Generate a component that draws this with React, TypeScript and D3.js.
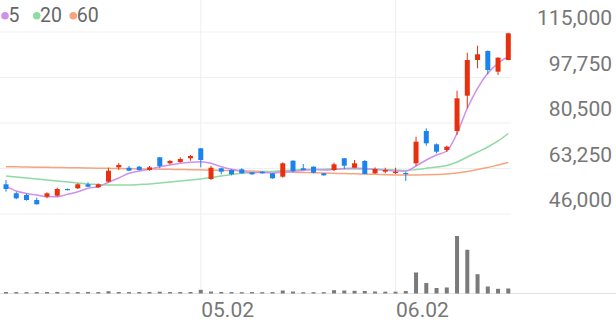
import React from 'react';
import * as d3 from 'd3';

const dates = [
  '04.04','04.05','04.06','04.07','04.10','04.11','04.12','04.13','04.14','04.17',
  '04.18','04.19','04.20','04.21','04.24','04.25','04.26','04.27','04.28','05.02',
  '05.03','05.04','05.08','05.09','05.10','05.11','05.12','05.15','05.16','05.17',
  '05.18','05.19','05.22','05.23','05.24','05.26','05.30','06.01','06.02','06.05',
  '06.07','06.08','06.09','06.12','06.13','06.14','06.15','06.16','06.19','06.20',
];

const open = [
  57260,53850,53200,51300,52560,52940,55480,55740,57260,56120,
  58250,63700,63550,63930,62680,67500,65220,65710,67120,70910,
  59270,63330,62680,62950,61810,62040,61430,60140,66210,63330,
  63930,61430,62680,67120,63550,66090,61430,62040,61540,61540,
  65220,77470,72420,70260,77470,90850,104380,107800,99950,104380,
];
const high = [
  58900,54450,53850,52180,54230,55970,55670,57640,58020,57560,
  63550,65340,64200,64200,64200,67600,66470,67500,68370,71020,
  64200,63440,62950,63330,61920,62190,61540,65600,66360,64960,
  64080,61540,65450,67230,66470,66470,63700,63550,63550,62040,
  75310,78490,72730,71890,92750,107150,109800,108000,105450,114600,
];
const low = [
  54450,51600,51100,49600,51950,52560,54910,55480,56300,55860,
  57940,62680,62300,62500,62420,63330,64840,65450,66210,63700,
  58890,61050,60670,61280,60900,61280,59380,59760,61810,62560,
  61430,60520,62300,63060,63330,61050,61160,61430,61160,58510,
  64310,71890,69010,69510,75950,86070,101240,98960,98700,104380,
];
const close = [
  55480,51950,51300,49680,53850,55480,55100,57260,56350,57260,
  62420,64580,62420,62680,63700,64200,66090,66850,67990,66470,
  63550,62040,61050,61430,61050,61430,59530,65220,62300,62680,
  61660,60670,64840,64310,65220,61160,63060,62680,62040,61160,
  73410,72800,69620,71520,89860,104380,106550,100590,105260,114500,
];
const volume = [
  42,40,38,40,42,45,38,40,42,40,
  65,42,40,40,42,50,40,40,42,105,
  55,42,40,38,40,38,40,85,55,38,
  38,38,95,85,77,72,57,52,52,70,
  600,300,157,172,1643,1250,551,200,134,143,
];
const ma5 = [
  56600,54720,53770,53200,52560,52560,53470,54450,55740,56350,
  58020,59650,61430,62300,62950,63930,64580,65220,65600,65830,
  65220,63930,62950,62300,61660,61730,61540,61920,62110,62490,
  62870,62680,62870,63250,63440,63250,62870,62680,62300,62300,
  64200,66470,68370,69880,76600,86070,93650,99340,103130,105640,
];
const ma20 = [
  60410,60030,59650,59270,58890,58510,58130,57750,57370,57180,
  56990,56990,56990,57180,57370,57750,58130,58510,58890,59270,
  59840,60410,60980,61430,61730,61920,62110,62490,62680,62870,
  62950,62980,63060,63060,63060,63060,63060,62870,62680,62490,
  62870,63330,63820,64390,65710,67610,69510,71400,73680,76520,
];
const ma60 = [
  63930,63870,63800,63740,63680,63620,63560,63490,63430,63370,
  63310,63240,63180,63120,63060,62990,62930,62870,62800,62740,
  62680,62580,62470,62370,62270,62160,62060,61960,61850,61750,
  61650,61540,61440,61340,61230,61130,61030,60920,60820,60790,
  60790,60860,60980,61160,61540,62110,62870,63630,64580,65520,
];

const priceTicks = [46000, 63250, 80500, 97750, 115000];
const dateTicks = ['05.02', '06.02'];
const legendItems = ['5', '20', '60'];

const UP = '#e8300e';
const DOWN = '#1b84ec';
const MA_COLORS = ['#cf90ee', '#8fdba2', '#f7a47f'];
const FONT = 'Roboto, "Noto Sans", sans-serif';

export default function App() {
  const W = 616;
  const H = 321;
  const x = d3.scalePoint<string>().domain(dates).range([6, 508.3]);
  const y = d3.scaleLinear().domain([46000, 115000]).range([214, 32]);
  const yVol = d3.scaleLinear().domain([0, 2000]).range([293.5, 223.5]);
  const gridRight = 511;

  const mkLine = (arr: number[]) =>
    d3
      .line<number>()
      .x((_, i) => x(dates[i]) as number)
      .y((d) => y(d))
      .curve(d3.curveMonotoneX)(arr) as string;

  const fmt = d3.format(',');
  const bodyW = 5;
  const volW = 4;

  return (
    <svg
      width={W}
      height={H}
      style={{ position: 'absolute', left: 0, top: 0, background: '#fff' }}
    >
      {priceTicks.map((t) => (
        <line key={'g' + t} x1={0} x2={gridRight} y1={y(t)} y2={y(t)} stroke="#efefef" strokeWidth={1} />
      ))}
      {dateTicks.map((d) => (
        <line key={'v' + d} x1={x(d)} x2={x(d)} y1={0} y2={293} stroke="#efefef" strokeWidth={1} />
      ))}
      <line x1={0} x2={W} y1={293.5} y2={293.5} stroke="#e2e2e2" strokeWidth={1} />

      {[ma60, ma20, ma5].map((arr, k) => (
        <path key={'ma' + k} d={mkLine(arr)} fill="none" stroke={MA_COLORS[2 - k]} strokeWidth={1.5} />
      ))}

      {dates.map((d, i) => {
        const cx = x(d) as number;
        const up = close[i] >= open[i];
        const c = up ? UP : DOWN;
        const top = y(Math.max(open[i], close[i]));
        const bot = y(Math.min(open[i], close[i]));
        const h = Math.max(1.2, bot - top);
        return (
          <g key={'c' + i}>
            <line x1={cx} x2={cx} y1={y(high[i])} y2={y(low[i])} stroke={c} strokeWidth={1} />
            <rect x={cx - bodyW / 2} y={top} width={bodyW} height={h} fill={c} />
          </g>
        );
      })}

      {dates.map((d, i) => {
        const cx = x(d) as number;
        return (
          <rect
            key={'vb' + i}
            x={cx - volW / 2}
            y={yVol(volume[i])}
            width={volW}
            height={yVol(0) - yVol(volume[i])}
            fill="#7a7a7a"
          />
        );
      })}

      {priceTicks.map((t) => (
        <text key={'t' + t} x={612} y={y(t) - 7} textAnchor="end" fontFamily={FONT} fontSize={21} fill="#777">
          {fmt(t)}
        </text>
      ))}
      {dateTicks.map((d) => (
        <text key={'dt' + d} x={(x(d) as number) + 0.5} y={317} fontFamily={FONT} fontSize={21} fill="#777">
          {d}
        </text>
      ))}

      {legendItems.map((l, k) => {
        const cxs = [5, 36.7, 73.3];
        return (
          <g key={'l' + l}>
            <circle cx={cxs[k]} cy={15.7} r={3.8} fill={MA_COLORS[k]} />
            <text x={cxs[k] + 3.4} y={22} fontFamily={FONT} fontSize={19.5} fill="#666">
              {l}
            </text>
          </g>
        );
      })}
    </svg>
  );
}
